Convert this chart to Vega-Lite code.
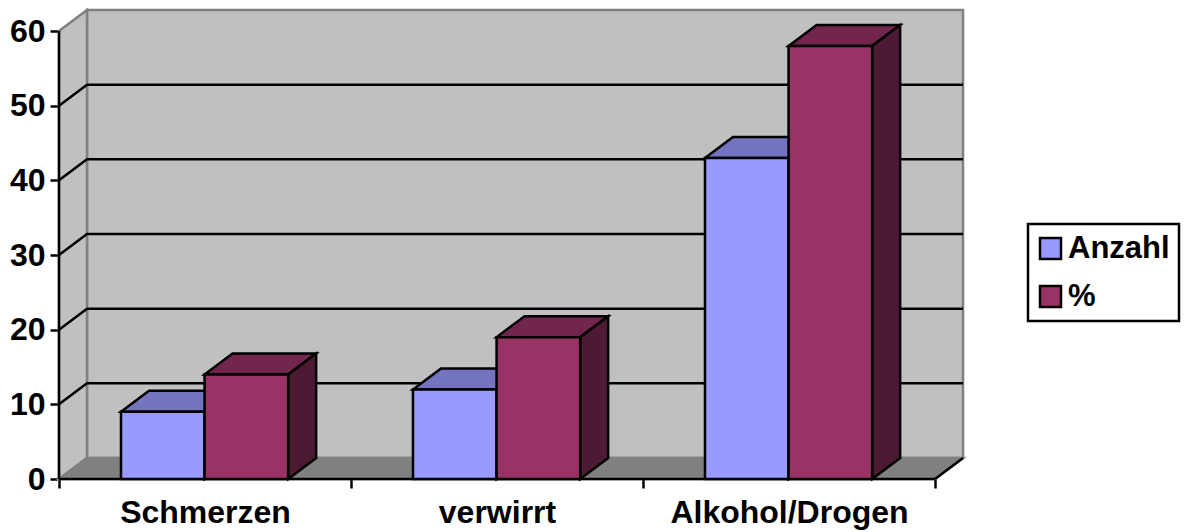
{
  "$schema": "https://vega.github.io/schema/vega-lite/v6.json",
  "width": 904,
  "height": 469,
  "autosize": {"type": "none"},
  "padding": {"left": 59, "top": 10, "right": 221, "bottom": 53},
  "background": "white",
  "config": {
    "view": {"stroke": null},
    "font": "Liberation Sans",
    "legend": {"strokeWidth": 2.5}
  },
  "datasets": {
    "balken": [
      {"Kategorie": "Schmerzen", "Serie": "Anzahl", "Wert": 9},
      {"Kategorie": "verwirrt", "Serie": "Anzahl", "Wert": 12},
      {"Kategorie": "Alkohol/Drogen", "Serie": "Anzahl", "Wert": 43},
      {"Kategorie": "Schmerzen", "Serie": "%", "Wert": 14},
      {"Kategorie": "verwirrt", "Serie": "%", "Wert": 19},
      {"Kategorie": "Alkohol/Drogen", "Serie": "%", "Wert": 58}
    ],
    "flaechen": [
      {"Flaeche": "Rueckwand"},
      {"Flaeche": "Seitenwand"},
      {"Flaeche": "Boden"}
    ],
    "gitter": [{"Stufe": 10}, {"Stufe": 20}, {"Stufe": 30}, {"Stufe": 40}, {"Stufe": 50}]
  },
  "layer": [
    {
      "data": {"name": "flaechen"},
      "transform": [
        {"calculate": "datum.Flaeche=='Rueckwand'?[0.0959,3.0959,3.0959,0.0959]:datum.Flaeche=='Seitenwand'?[0,0.0959,0.0959,0]:[0,3,3.0959,0.0959]", "as": "px"},
        {"calculate": "datum.Flaeche=='Rueckwand'?[62.8125,62.8125,2.8125,2.8125]:datum.Flaeche=='Seitenwand'?[60,62.8125,2.8125,0]:[0,0,2.8125,2.8125]", "as": "py"},
        {"calculate": "[0,1,2,3]", "as": "n"},
        {"calculate": "datum.Flaeche=='Boden'?'#808080':'#c0c0c0'", "as": "farbe"},
        {"flatten": ["px", "py", "n"]}
      ],
      "mark": {"type": "line", "interpolate": "linear-closed", "stroke": "#808080", "strokeWidth": 2.5},
      "encoding": {
        "x": {"field": "px", "type": "quantitative", "scale": {"domain": [0, 3.0959], "nice": false, "zero": false},
          "axis": {"values": [0, 1, 2, 3], "domain": false, "grid": false, "title": null, "tickColor": "black", "tickWidth": 2.5, "tickSize": 9,
            "labelExpr": "datum.value==0?'Schmerzen':datum.value==1?'verwirrt':datum.value==2?'Alkohol/Drogen':''",
            "labelOffset": 146, "labelFontSize": 32, "labelFontWeight": "bold", "labelColor": "black", "labelPadding": 9, "labelFlush": false, "labelOverlap": false, "labelBound": false, "labelLimit": 500}},
        "y": {"field": "py", "type": "quantitative", "scale": {"domain": [0, 62.8125], "nice": false},
          "axis": {"values": [0, 10, 20, 30, 40, 50, 60], "domain": false, "grid": false, "title": null, "tickColor": "black", "tickWidth": 2.5, "tickSize": 9,
            "labelFontSize": 32, "labelFontWeight": "bold", "labelColor": "black", "labelPadding": 5}},
        "detail": {"field": "Flaeche"},
        "order": {"field": "n", "type": "quantitative"},
        "fill": {"field": "farbe", "type": "nominal", "scale": null}
      }
    },
    {
      "data": {"name": "gitter"},
      "transform": [
        {"calculate": "[0,0.0959,3.0959]", "as": "px"},
        {"calculate": "[datum.Stufe,datum.Stufe+2.8125,datum.Stufe+2.8125]", "as": "py"},
        {"calculate": "[0,1,2]", "as": "n"},
        {"flatten": ["px", "py", "n"]}
      ],
      "mark": {"type": "line", "stroke": "black", "strokeWidth": 2.5},
      "encoding": {
        "x": {"field": "px", "type": "quantitative"},
        "y": {"field": "py", "type": "quantitative"},
        "detail": {"field": "Stufe"},
        "order": {"field": "n", "type": "quantitative"}
      }
    },
    {
      "data": {"values": [{"Achse": "y"}, {"Achse": "x"}, {"Achse": "r"}]},
      "transform": [
        {"calculate": "datum.Achse=='y'?[0,0]:datum.Achse=='x'?[0,3]:[3,3.0959]", "as": "px"},
        {"calculate": "datum.Achse=='y'?[0,60]:datum.Achse=='x'?[0,0]:[0,2.8125]", "as": "py"},
        {"calculate": "[0,1]", "as": "n"},
        {"flatten": ["px", "py", "n"]}
      ],
      "mark": {"type": "line", "stroke": "black", "strokeWidth": 2.5},
      "encoding": {
        "x": {"field": "px", "type": "quantitative"},
        "y": {"field": "py", "type": "quantitative"},
        "detail": {"field": "Achse"},
        "order": {"field": "n", "type": "quantitative"}
      }
    },
    {
      "data": {"name": "balken"},
      "transform": [
        {"calculate": "indexof(['Schmerzen','verwirrt','Alkohol/Drogen'],datum.Kategorie)+(datum.Serie=='Anzahl'?0.2123:0.4985)", "as": "x0"},
        {"calculate": "['Dach','Seite']", "as": "Teil"},
        {"flatten": ["Teil"]},
        {"calculate": "datum.Teil=='Dach'?[datum.x0,datum.x0+0.2862,datum.x0+0.3821,datum.x0+0.0959]:[datum.x0+0.2862,datum.x0+0.3821,datum.x0+0.3821,datum.x0+0.2862]", "as": "px"},
        {"calculate": "datum.Teil=='Dach'?[datum.Wert,datum.Wert,datum.Wert+2.8125,datum.Wert+2.8125]:[0,2.8125,datum.Wert+2.8125,datum.Wert]", "as": "py"},
        {"calculate": "[0,1,2,3]", "as": "n"},
        {"calculate": "datum.Serie=='Anzahl'?(datum.Teil=='Dach'?'#7373bf':'#4d4d80'):(datum.Teil=='Dach'?'#73264d':'#4d1a33')", "as": "farbe"},
        {"calculate": "datum.Kategorie+datum.Serie+datum.Teil", "as": "schluessel"},
        {"flatten": ["px", "py", "n"]}
      ],
      "mark": {"type": "line", "interpolate": "linear-closed", "stroke": "black", "strokeWidth": 2.5, "strokeJoin": "miter"},
      "encoding": {
        "x": {"field": "px", "type": "quantitative"},
        "y": {"field": "py", "type": "quantitative"},
        "detail": {"field": "schluessel"},
        "order": {"field": "n", "type": "quantitative"},
        "fill": {"field": "farbe", "type": "nominal", "scale": null}
      }
    },
    {
      "data": {"name": "balken"},
      "transform": [
        {"calculate": "indexof(['Schmerzen','verwirrt','Alkohol/Drogen'],datum.Kategorie)+(datum.Serie=='Anzahl'?0.2123:0.4985)", "as": "x0"},
        {"calculate": "datum.x0+0.2862", "as": "x1"}
      ],
      "mark": {"type": "rect", "strokeWidth": 2.5},
      "encoding": {
        "x": {"field": "x0", "type": "quantitative"},
        "x2": {"field": "x1"},
        "y": {"field": "Wert", "type": "quantitative"},
        "y2": {"datum": 0},
        "stroke": {"value": "black"},
        "fill": {
          "field": "Serie", "type": "nominal",
          "scale": {"domain": ["Anzahl", "%"], "range": ["#9999ff", "#993366"]},
          "legend": {
            "title": null, "orient": "none", "legendX": 969, "legendY": 214,
            "strokeColor": "black", "fillColor": "white", "padding": 9,
            "symbolType": "square", "symbolSize": 441, "symbolStrokeWidth": 2.5, "symbolOffset": -2,
            "labelFontSize": 31, "labelFontWeight": "bold", "labelColor": "black", "labelLimit": 200, "labelOffset": 2, "rowPadding": 16,
            "encoding": {
              "symbols": {"update": {"stroke": {"value": "black"}, "strokeWidth": {"value": 2.5}, "opacity": {"value": 1}}}
            }
          }
        }
      }
    }
  ]
}
